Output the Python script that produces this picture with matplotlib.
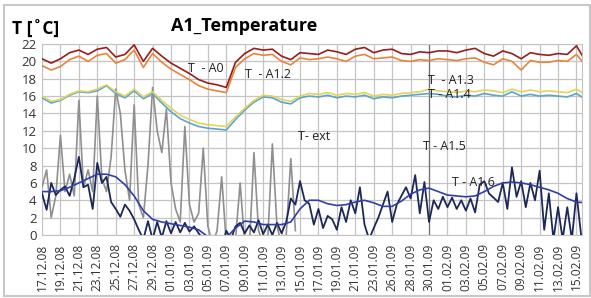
import numpy as np
import matplotlib
matplotlib.use("Agg")
import matplotlib.pyplot as plt
from matplotlib.patches import Rectangle

plt.rcParams['font.family'] = ['Open Sans', 'DejaVu Sans']

dateLabels = ["17.12.08", "19.12.08", "21.12.08", "23.12.08", "25.12.08", "27.12.08",
              "29.12.08", "01.01.09", "03.01.09", "05.01.09", "07.01.09", "09.01.09",
              "11.01.09", "13.01.09", "15.01.09", "17.01.09", "19.01.09", "21.01.09",
              "23.01.09", "26.01.09", "28.01.09", "30.01.09", "01.02.09", "03.02.09",
              "05.02.09", "07.02.09", "09.02.09", "11.02.09", "13.02.09", "15.02.09"]

# half-category sampling (each category = one date label)
tA0 = [20.3, 19.8, 20.3, 21.0, 21.3, 20.8, 21.4, 21.6, 20.5, 20.8,
       21.9, 20.0, 21.5, 20.6, 19.8, 19.2, 18.6, 17.9, 17.5, 17.3,
       17.0, 19.9, 20.9, 21.5, 21.3, 21.4, 20.6, 20.2, 21.0, 20.9,
       20.8, 21.3, 21.1, 20.8, 21.4, 21.6, 21.0, 21.3, 21.4, 20.9,
       20.8, 21.1, 21.0, 21.2, 21.2, 21.0, 21.3, 21.5, 20.9, 20.6,
       21.2, 20.9, 20.3, 21.0, 20.8, 20.7, 20.9, 20.8, 21.8, 20.0]
tA12 = [19.5, 19.0, 19.4, 20.2, 20.6, 20.0, 20.7, 20.9, 19.8, 20.2,
        21.3, 19.3, 20.9, 19.9, 19.1, 18.5, 17.9, 17.2, 16.8, 16.6,
        16.4, 19.3, 20.3, 20.9, 20.7, 20.8, 20.0, 19.6, 20.4, 20.2,
        20.3, 20.5, 20.3, 20.0, 20.6, 20.8, 20.3, 20.4, 20.5, 20.1,
        20.0, 20.2, 20.1, 20.3, 20.2, 20.1, 20.3, 20.4, 19.9, 19.6,
        20.3, 20.0, 19.0, 20.1, 19.9, 19.9, 20.1, 20.0, 20.8, 19.5]
tA13 = [16.0, 15.4, 15.6, 16.2, 16.6, 16.5, 16.8, 17.3, 16.5, 16.0,
        16.8, 15.9, 16.5, 15.5, 14.6, 13.8, 13.3, 12.9, 12.7, 12.6,
        12.5, 13.6, 14.6, 15.5, 16.1, 16.0, 15.6, 15.4, 16.0, 16.3,
        16.2, 16.4, 16.1, 16.3, 16.2, 16.4, 16.0, 16.2, 16.1, 16.3,
        16.4, 16.5, 16.8, 16.6, 16.5, 16.4, 16.6, 16.5, 16.7, 16.6,
        16.4, 16.8, 16.5, 16.7, 16.5, 16.6, 16.5, 16.4, 16.8, 16.2]
tA14 = [15.8, 15.2, 15.5, 16.1, 16.5, 16.4, 16.6, 17.2, 16.3, 15.8,
        16.6, 15.7, 16.3, 15.2, 14.2, 13.4, 12.9, 12.5, 12.3, 12.2,
        12.1, 13.3, 14.4, 15.3, 15.9, 15.8, 15.3, 15.1, 15.8, 16.0,
        15.9, 16.1, 15.8, 16.0, 15.9, 16.1, 15.7, 15.9, 15.8, 16.0,
        16.1, 16.2, 16.3, 16.2, 16.0, 15.9, 16.1, 16.0, 16.3, 16.1,
        16.0, 16.5, 16.0, 16.2, 16.0, 16.1, 16.0, 15.9, 16.3, 15.6]
tA15 = [5.0, 5.0, 5.1, 5.5, 6.0, 6.5, 7.0, 7.0, 6.7, 5.8,
        4.5, 2.8, 1.8, 1.5, 1.3, 1.1, 0.9, 0.6, -0.2, -0.8,
        -0.3, 0.8, 1.6, 1.5, 1.2, 1.2, 1.2, 1.5, 3.0, 4.0,
        4.0, 3.6, 3.4, 3.5, 3.8, 4.0, 3.7, 3.3, 3.3, 3.9,
        4.7, 5.2, 5.4, 5.0, 4.6, 4.5, 4.4, 4.5, 5.0, 5.6,
        6.0, 6.1, 6.0, 5.8, 5.5, 5.2, 4.8, 4.2, 3.8, 3.7]

# quarter-category sampling
tExt = [5.5, 7.5, 2.0, 4.5, 11.5, 5.0, 7.0, 4.5, 15.5, 5.5,
        7.5, 5.0, 16.0, 6.5, 5.0, 9.0, 16.8, 14.0, 7.5, 4.0,
        15.0, 3.5, 2.0, 8.0, 17.0, 12.0, 9.5, 14.5, 6.0, 3.0,
        1.5, 12.5, 3.5, 1.5, 2.5, 10.0, 1.0, -1.0, 0.5, 6.7,
        -1.0, -2.0, -0.5, 6.0, -1.0, -1.5, 9.5, 0.5, -1.0, -0.5,
        10.5, 1.0, -1.0, 0.0, 8.8, 0.5]
tA16 = [4.8, 2.9, 6.0, 4.6, 5.2, 5.6, 4.5, 6.5, 9.0, 5.5,
        5.8, 3.0, 8.3, 6.0, 6.7, 3.8, 3.0, 2.1, 3.5, 2.8,
        1.8, 0.6, -0.5, 1.6, -0.5, 1.5, -0.3, 1.6, 0.2, 1.5,
        0.3, 1.4, 0.4, 1.0, 0.2, -0.5, -1.5, -2.0, -1.0, -1.5,
        0.5, -0.5, 1.0, 1.4, 0.2, 1.1, 0.3, 1.7, 0.1, 1.2,
        0.0, 1.4, 0.2, 1.5, 4.2, 3.5, 6.2, 4.0, 3.6, 1.2,
        3.0, 0.8, 2.2, 1.8, 0.6, 3.2, 1.5, 4.0, 2.5, 5.5,
        1.2, -0.5, 0.8, 2.0, 3.5, 5.0, 1.5, 3.5, 4.5, 5.5,
        4.2, 6.9, 2.5, 6.1, 1.5, 4.0, 3.0, 4.4, 3.2, 4.3,
        3.0, 4.0, 2.8, 4.2, 2.6, 5.8, 6.2, 4.8, 4.3, 3.8,
        6.0, 3.0, 7.8, 4.4, 6.2, 3.2, 6.0, 4.0, 7.4, 0.6,
        4.8, -0.5, 3.2, -0.5, 3.2, -0.5, 4.8, 0.0]

xHalf = np.arange(len(tA0))*0.5
xQuarterExt = np.arange(len(tExt))*0.25
xQuarter = np.arange(len(tA16))*0.25

W, H = 591, 298
fig = plt.figure(figsize=(W/100, H/100), dpi=100)
ax = fig.add_axes([42/W, 1-235/H, (582-42)/W, (235-44)/H])

ax.plot(xQuarterExt, tExt, color="#8f8f8f", lw=1.2, zorder=3)
ax.plot(xHalf, tA14, color="#5aa5cf", lw=1.2, zorder=4)
ax.plot(xHalf, tA13, color="#e3d35a", lw=1.2, zorder=4)
ax.plot(xHalf, tA12, color="#e8843a", lw=1.2, zorder=5)
ax.plot(xHalf, tA0, color="#9a1c1c", lw=1.2, zorder=6)
ax.plot(xQuarter, tA16, color="#1c2858", lw=1.3, zorder=7)
ax.plot(xHalf, tA15, color="#2f3fa8", lw=1.2, zorder=8)

ax.set_xlim(0, 29.3)
ax.set_ylim(0, 22)
ax.set_yticks(np.arange(0, 23, 2))
ax.set_xticks(np.arange(len(dateLabels)))
ax.set_xticklabels(dateLabels, rotation=90)
ax.tick_params(axis="both", length=0, colors="#333333")
ax.tick_params(axis="x", pad=6, labelsize=8.6)
ax.tick_params(axis="y", pad=4, labelsize=9.5)
ax.grid(True, color="#c4c4c4", lw=0.9)
ax.set_axisbelow(True)
ax.axvline(21, color="#707070", lw=0.9, zorder=2)
for s in ax.spines.values():
    s.set_color("#c4c4c4")

def fpos(x, y):
    return x/W, 1-y/H

fig.text(*fpos(244, 26), "A1_Temperature", fontsize=13, fontweight="bold", ha="center", va="center")
fig.text(*fpos(12, 29), "T [˚C]", fontsize=12.5, fontweight="bold", ha="left", va="center")

labels = [("T  - A0", 188, 68), ("T  - A1.2", 245, 75), ("T  - A1.3", 428, 80),
          ("T - A1.4", 428, 95), ("T- ext", 298, 136), ("T - A1.5", 423, 147),
          ("T - A1.6", 452, 182)]
for txt, lx, ly in labels:
    fig.text(*fpos(lx, ly), txt, fontsize=9, color="#222222", ha="left", va="center", zorder=10)

fig.patches.append(Rectangle((4/W, 1-296/H), 586/W, 291/H, transform=fig.transFigure,
                             fill=False, edgecolor="#c8c8c8", lw=1.5))

plt.savefig("out.png", dpi=100)
plt.close()
